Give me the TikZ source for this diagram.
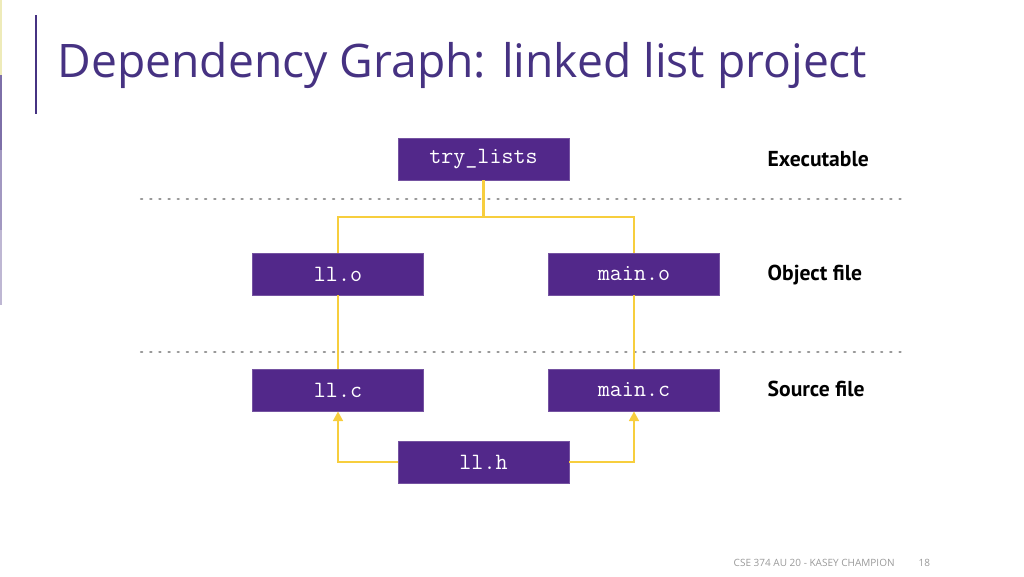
\documentclass[tikz,border=0pt]{standalone}
\usepackage{fontspec}
\setmainfont{Open Sans}
\newfontfamily\labelfont{PT Sans}
\usetikzlibrary{arrows.meta}
\definecolor{uwpurple}{RGB}{82,40,138}
\definecolor{titlepurple}{RGB}{70,50,130}
\definecolor{depgold}{RGB}{247,206,62}
\tikzset{
every picture/.style={line width=0.8pt, >={Triangle[length=5.5pt,width=5.5pt]}},
%%%%%%%%%%  Node styles
filebox/.style={fill=uwpurple, draw=uwpurple!80!white, thin, text=white,
                minimum width=3.42cm, minimum height=0.84cm, inner sep=0pt,
                font=\fontsize{13.3}{14}\ttfamily},
kind/.style={anchor=west, inner sep=0pt, font=\fontsize{12.3}{14}\labelfont\bfseries},
%%%% line styles
dep/.style={draw=depgold, line width=1.4pt},
level/.style={draw=black!40, line width=1.2pt, dash pattern=on 0.8pt off 4.4pt, line cap=round}
}

\begin{document}
\begin{tikzpicture}[x=0.02cm,y=-0.02cm]
\useasboundingbox (0,0) rectangle (1024,576);
% slide decoration
\fill[black!25!yellow!30] (0,0) rectangle (2,75);
\fill[titlepurple!70] (0,75) rectangle (2,150);
\fill[titlepurple!50] (0,150) rectangle (2,230);
\fill[titlepurple!35] (0,230) rectangle (2,305);
\draw[titlepurple, line width=1.2pt] (36,15) -- (36,114);
\node[anchor=base west, inner sep=0pt, text=titlepurple,
      font=\fontsize{26.3}{30}\selectfont] (title) at (57,77)
      {Dependency Graph: linked list project};
% files
\node[filebox] (try) at (483.5,159) {try\_lists};
\node[filebox] (llo) at (338,274) {ll.o};
\node[filebox] (mao) at (634,274) {main.o};
\node[filebox] (llc) at (338,390) {ll.c};
\node[filebox] (mac) at (634,390) {main.c};
\node[filebox] (llh) at (483.5,462) {ll.h};
% levels
\draw[level] (141,199) -- (907,199);
\draw[level] (141,352) -- (907,352);
\node[kind] (exe) at (767,159) {Executable};
\node[kind] (obj) at (767,275) {Object file};
\node[kind] (src) at (767,389) {Source file};
% dependencies
\coordinate (fork) at (483.5,217);
\draw[dep] (try.south) -- (fork) -| (llo.north);
\draw[dep] (fork) -| (mao.north);
\draw[dep] (llo.south) -- (llc.north);
\draw[dep] (mao.south) -- (mac.north);
\draw[dep,->] (llh.west) -| (llc.south);
\draw[dep,->] (llh.east) -| (mac.south);
% footer
\node[anchor=base west, inner sep=0pt, text=black!40,
      font=\fontsize{5.7}{7}\selectfont] (foot) at (733,566)
      {CSE 374 AU 20 - KASEY CHAMPION};
\node[anchor=base west, inner sep=0pt, text=black!40,
      font=\fontsize{5.7}{7}\selectfont] (page) at (918,566) {18};
\end{tikzpicture}
\end{document}
